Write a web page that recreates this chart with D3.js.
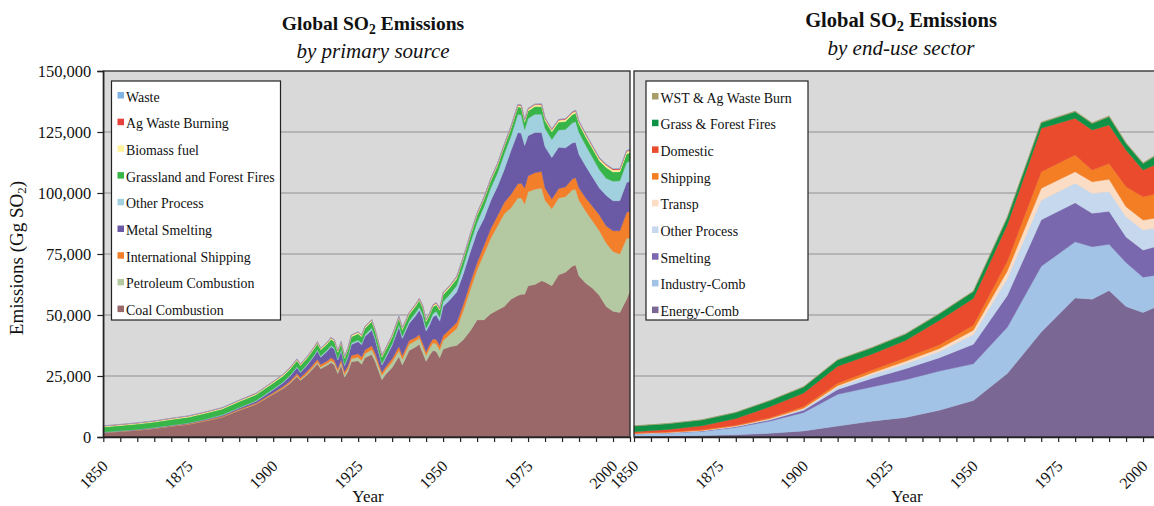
<!DOCTYPE html>
<html><head><meta charset="utf-8">
<script src="https://cdn.jsdelivr.net/npm/d3@7"></script>
<style>
body{margin:0;background:#fff;overflow:hidden}
svg{display:block}
text{font-family:"Liberation Serif","Times New Roman",serif;fill:#111}
</style>
</head><body><svg id="c" width="1154" height="506"></svg>
<script>
// ---------------- LEFT CHART DATA: by primary source (Gg SO2) ----------------
const L_YEARS = [1850,1855,1860,1865,1870,1875,1880,1885,1890,1895,1900,
  1903,1905,1907,1908,1910,1912,1913,1914,1916,1917,1918,1919,1920,1921,1922,1923,1925,1926,1927,1929,1930,1932,1933,1935,1937,1938,
  1940,1942,1943,1944,1945,1946,1947,1948,1949,1950,
  1952,1954,1956,1958,1960,1962,1964,1966,1968,1970,
  1972,1973,1974,1975,1977,1979,1980,1982,1984,1986,1988,1989,1990,
  1992,1994,1996,1998,2000,2002,2004,2005];

const coal = [1800,2300,2800,3500,4400,5200,6600,8200,11000,13500,17500,
  20000,22000,24800,23200,25500,28500,30000,28000,29500,30500,29500,26000,29500,24500,26800,30800,31200,29800,32500,33800,31000,23500,25500,28500,33000,29500,
  35500,37000,38000,34500,31000,33500,35500,35000,32500,36000,
  37000,37500,40000,43500,48000,48000,50500,52000,53500,56500,
  58000,58500,58500,62000,62500,64000,63500,62000,66500,67500,70000,70500,66000,
  63000,61000,58000,53500,51500,51000,56500,60000];
const petroleum = [0,0,0,0,0,0,0,0,20,50,150,
  220,300,380,400,500,600,700,700,800,900,950,1000,1100,1100,1200,1300,1500,1600,1700,2000,2000,1800,1900,2200,2500,2400,
  2500,2500,2600,2600,2500,2800,3000,3200,3200,3500,
  5000,7000,12000,17000,20500,27000,31000,34500,38000,37500,
  40000,39500,37000,38500,39000,38000,33500,31500,31500,31000,31200,31000,31000,
  29500,27500,26500,26000,24500,24000,25000,21500];
const shipping = [50,60,80,100,150,200,250,300,350,420,500,
  600,700,800,800,900,1000,1100,1000,1000,1100,1100,1100,1200,1100,1200,1300,1400,1400,1500,1600,1500,1200,1200,1400,1600,1500,
  1500,1400,1400,1400,1400,1600,1700,1800,1800,2000,
  2200,2400,2600,2800,3000,3400,3800,4200,4600,5500,
  5800,6000,6500,6500,6800,6800,5000,4000,3800,4000,4500,4800,5000,
  5500,6000,6500,7000,8500,9500,10500,11000];
const smelting = [100,120,150,170,200,250,300,400,500,700,1200,
  1500,2000,2500,2000,2500,3000,3500,3000,4000,4500,4500,3500,3500,2500,3500,4500,5000,5000,5500,6500,5500,3000,3500,5500,8000,7000,
  7000,9000,10000,10500,8500,8000,9000,10000,10000,12000,
  12000,12500,12500,12500,12500,11000,11500,12000,13500,18000,
  21000,20500,17500,16500,16500,16000,17000,17000,17000,16000,14800,14500,13800,
  13000,12000,11000,12500,12300,12300,12300,12300];
const otherProcess = [50,60,70,80,100,120,150,180,200,250,300,
  320,350,380,380,400,450,500,480,520,550,550,500,550,500,550,600,650,650,700,800,750,600,650,750,900,850,
  1000,1200,1300,1300,1200,1300,1400,1500,1600,2000,
  2300,2700,3200,3700,4000,5000,5200,5500,6500,6000,
  7500,7500,6500,7000,7500,7500,7500,7400,7000,7500,8200,8500,9000,
  8500,8000,7500,7000,8000,8200,8200,8200];
const grassFires = [2100,2150,2200,2250,2300,2350,2400,2400,2450,2450,2500,
  2500,2500,2500,2500,2550,2550,2550,2550,2550,2550,2550,2600,2600,2600,2600,2600,2600,2600,2650,2650,2650,2650,2650,2650,2700,2700,
  2700,2700,2700,2750,2750,2750,2750,2750,2800,2800,
  2800,2800,2850,2850,2900,2900,2900,2950,2950,3000,
  3000,3050,3050,3100,3100,3150,3200,3200,3250,3300,3400,3450,3500,
  3500,3600,3700,4500,3800,3700,3600,3500];
const biomassFuel = [350,360,370,380,390,400,410,420,430,440,450,
  460,470,480,480,490,500,500,500,510,510,510,520,520,520,530,530,540,540,540,550,550,550,560,560,570,570,
  570,580,580,580,590,590,590,600,600,600,
  610,620,630,640,650,660,670,680,690,700,
  710,720,720,730,740,750,760,770,780,790,800,810,820,
  830,840,850,860,870,880,890,900];
const agWaste = [100,100,110,110,120,120,130,130,140,140,150,
  150,160,160,160,170,170,170,170,180,180,180,180,180,180,190,190,190,190,200,200,200,200,200,210,210,210,
  210,210,210,220,220,220,220,220,230,230,
  230,240,240,240,250,250,250,260,260,260,
  270,270,270,280,280,290,290,300,300,310,310,320,320,
  330,330,340,340,350,350,360,360];
const waste = [20,20,20,25,25,25,30,30,30,35,35,
  35,40,40,40,40,45,45,45,45,45,50,50,50,50,50,50,55,55,55,55,55,55,55,60,60,60,
  60,60,60,60,60,65,65,65,65,70,
  70,70,75,75,80,80,85,85,90,90,
  95,95,100,100,100,105,110,110,115,120,120,125,125,
  130,130,135,135,140,140,145,145];

const L_KEYS   = ["Coal Combustion","Petroleum Combustion","International Shipping","Metal Smelting","Other Process","Grassland and Forest Fires","Biomass fuel","Ag Waste Burning","Waste"];
const L_SERIES = [coal,petroleum,shipping,smelting,otherProcess,grassFires,biomassFuel,agWaste,waste];
const L_COLORS = ["#9a6868","#b4c9a1","#f47f2a","#6a5aa6","#a1d0df","#38b549","#fff3a0","#e8403a","#7fb3e3"];

// ---------------- RIGHT CHART DATA: by end-use sector (Gg SO2) ----------------
const R_YEARS = [1850,1860,1870,1880,1890,1900,1910,1920,1930,1940,1950,1960,1970,1980,1985,1990,1995,2000,2005];
const energyComb   = [300,400,600,900,1500,2500,4500,6500,8000,11000,15000,26000,43000,57000,56500,60000,53500,51000,54000];
const industryComb = [900,1200,1700,3000,5000,7500,13000,14000,15500,16000,15000,19000,27000,23000,21500,19000,18000,14500,12500];
const smeltingR    = [100,150,200,300,500,1000,2000,3500,4500,5500,8000,13000,19000,16000,13700,13500,10500,11100,12000];
const otherProcR   = [50,60,100,200,300,500,1000,1500,2000,2500,4000,7000,8000,8000,8200,8000,8300,8200,7500];
const transp       = [50,60,80,100,150,300,500,700,1000,1300,1800,3000,4900,4700,4700,5100,4100,4100,4000];
const shippingR    = [200,220,300,350,450,700,1000,1200,1500,1500,2000,4000,6800,6900,4800,6500,8200,9600,10000];
const domestic     = [600,1000,1600,2700,4500,5500,7000,6500,7000,10000,11000,15000,17800,15000,16400,15800,15000,10900,12500];
const grassForest  = [2300,2350,2400,2450,2450,2500,2550,2600,2650,2700,2800,2900,2300,2700,2700,3400,2700,2700,3800];
const wstAgWaste   = [100,110,120,130,150,150,170,180,200,210,230,250,270,300,300,320,320,330,340];

const R_KEYS   = ["Energy-Comb","Industry-Comb","Smelting","Other Process","Transp","Shipping","Domestic","Grass & Forest Fires","WST & Ag Waste Burn"];
const R_SERIES = [energyComb,industryComb,smeltingR,otherProcR,transp,shippingR,domestic,grassForest,wstAgWaste];
const R_COLORS = ["#7b6793","#a2c3e6","#7a68ae","#c5d8ed","#fbdcc4","#f47e24","#ea4b2d","#0f9146","#a89e6c"];

const Y_TICKS = [0,25000,50000,75000,100000,125000,150000];
const X_LABELS = [1850,1875,1900,1925,1950,1975,2000];

// ---------------- DRAWING ----------------
const svg = d3.select("#c");
const Y0 = 71, Y1 = 437;
const y = d3.scaleLinear().domain([0,150000]).range([Y1,Y0]);

function table(years, keys, series){
  return years.map((yr,i)=>{ const o={year:yr}; keys.forEach((k,j)=>o[k]=series[j][i]); return o; });
}

function panel(opt){
  const g = svg.append("g");
  const x = d3.scaleLinear().domain([1850,2005]).range([opt.x0,opt.x1]);
  g.append("rect").attr("x",opt.x0).attr("y",Y0).attr("width",opt.x1-opt.x0).attr("height",Y1-Y0).attr("fill","#d9d9d9");
  g.selectAll(".grid").data(Y_TICKS.slice(1,-1)).join("line")
    .attr("x1",opt.x0).attr("x2",opt.x1).attr("y1",d=>y(d)).attr("y2",d=>y(d))
    .attr("stroke","#a9a9a9").attr("stroke-width",1.5);
  const rows = table(opt.years, opt.keys, opt.series);
  const stack = d3.stack().keys(opt.keys)(rows);
  const area = d3.area().x(d=>x(d.data.year)).y0(d=>y(d[0])).y1(d=>y(d[1]));
  g.selectAll(".lay").data(stack).join("path")
    .attr("d",area).attr("fill",(d,i)=>opt.colors[i]).attr("stroke",(d,i)=>opt.colors[i]).attr("stroke-width",0.4);
  g.append("rect").attr("x",opt.x0).attr("y",Y0).attr("width",opt.x1-opt.x0).attr("height",Y1-Y0)
    .attr("fill","none").attr("stroke","#2a2a2a").attr("stroke-width",1.3);
  const ax = g.append("g").attr("transform",`translate(0,${Y1})`)
    .call(d3.axisBottom(x).tickValues(d3.range(1850,2006,5)).tickSize(5).tickSizeOuter(0)
      .tickFormat(d=>X_LABELS.includes(d)?String(d):""));
  ax.select(".domain").attr("stroke","#222").attr("stroke-width",1.3);
  ax.selectAll(".tick line").attr("stroke","#222").attr("stroke-width",1.2);
  ax.selectAll(".tick text").attr("y",0).attr("dy",0).attr("x",0)
    .attr("text-anchor","end").attr("transform","translate(5,30) rotate(-45)")
    .style("font-size","16px").attr("fill","#111");
  g.append("text").attr("x",opt.yearX).attr("y",502).attr("text-anchor","middle").style("font-size","17px").text("Year");
  const t = g.append("text").attr("x",opt.tx).attr("y",opt.ty).attr("text-anchor","middle").style("font-size",opt.tf+"px").style("font-weight","bold");
  t.append("tspan").text("Global SO");
  t.append("tspan").text("2").style("font-size",(opt.tf*0.7)+"px").attr("dy",4);
  t.append("tspan").text(" Emissions").attr("dy",-4);
  g.append("text").attr("x",opt.tx).attr("y",opt.ty+28).attr("text-anchor","middle").style("font-size","21px").style("font-style","italic").text(opt.sub);
  const lg = g.append("g");
  lg.append("rect").attr("x",opt.lx).attr("y",81).attr("width",opt.lw).attr("height",239).attr("fill","#fff").attr("stroke","#222").attr("stroke-width",1.2);
  const items = opt.keys.map((k,i)=>({k,c:opt.colors[i]})).reverse();
  items.forEach((it,i)=>{
    const yy = opt.ly + i*26.7;
    lg.append("rect").attr("x",opt.lx+6).attr("y",yy-9.5).attr("width",6.5).attr("height",6.5).attr("fill",it.c);
    lg.append("text").attr("x",opt.lx+14.5).attr("y",yy).style("font-size","13.9px").text(it.k);
  });
  return x;
}

panel({x0:103.3,x1:630,years:L_YEARS,keys:L_KEYS,series:L_SERIES,colors:L_COLORS,
  tx:373,ty:30,tf:19.5,sub:"by primary source",lx:111.5,lw:169,ly:101.5,yearX:368});
panel({x0:634,x1:1160,years:R_YEARS,keys:R_KEYS,series:R_SERIES,colors:R_COLORS,
  tx:901,ty:27,tf:20.5,sub:"by end-use sector",lx:646,lw:162,ly:102.5,yearX:907});

const ya = svg.append("g").attr("transform","translate(103.3,0)")
  .call(d3.axisLeft(y).tickValues(Y_TICKS).tickSize(6).tickFormat(d3.format(",")));
ya.select(".domain").attr("stroke","#222").attr("stroke-width",1.3);
ya.selectAll(".tick line").attr("stroke","#222").attr("stroke-width",1.2);
ya.selectAll(".tick text").attr("x",-12).style("font-size","16.5px").attr("fill","#111");
const yt = svg.append("text").attr("transform","translate(23,258) rotate(-90)").attr("text-anchor","middle").style("font-size","19px");
yt.append("tspan").text("Emissions (Gg SO");
yt.append("tspan").text("2").style("font-size","13px").attr("dy",3);
yt.append("tspan").text(")").attr("dy",-3);
</script></body></html>
